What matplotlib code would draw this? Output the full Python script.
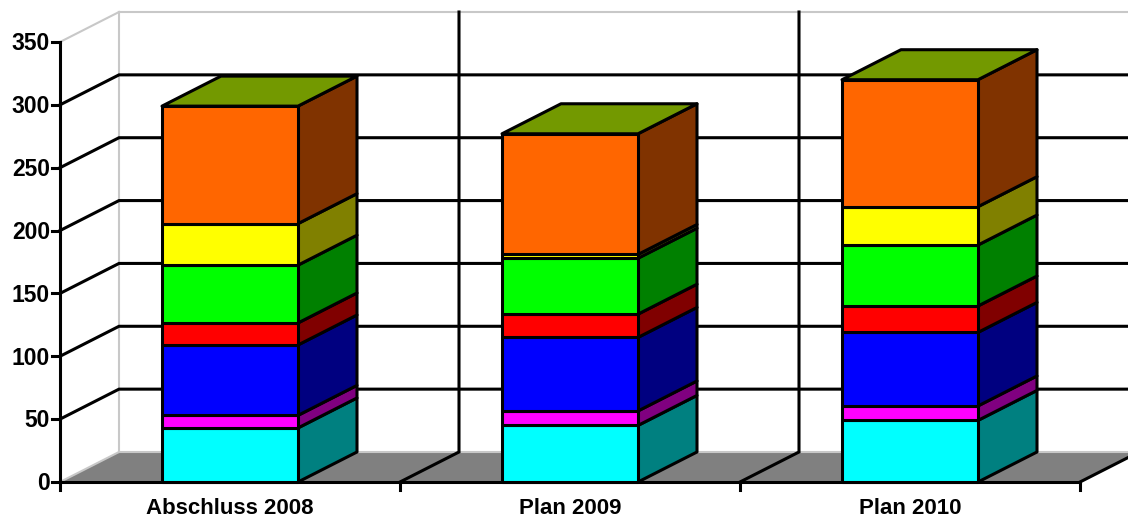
import matplotlib
matplotlib.use("Agg")
import matplotlib.pyplot as plt
from matplotlib.patches import Polygon

plt.rcParams['font.family'] = ['Liberation Sans', 'DejaVu Sans']

categories = ["Abschluss 2008", "Plan 2009", "Plan 2010"]
cyan = [43, 45, 49]
magenta = [10, 11.5, 11.5]
blue = [56, 58.5, 58.5]
red = [17.5, 18.5, 21]
green = [46, 44.5, 48.5]
yellow = [33, 3, 30.5]
orange = [93.5, 96, 101]
series = [cyan, magenta, blue, red, green, yellow, orange]
front_colors = ["#00FFFF", "#FF00FF", "#0000FF", "#FF0000", "#00FF00", "#FFFF00", "#FF6600"]
side_colors = ["#008080", "#800080", "#000080", "#800000", "#008000", "#808000", "#803300"]
top_color = "#739900"
y_ticks = [0, 50, 100, 150, 200, 250, 300, 350]

W, H = 1128, 520
x_px = 340.0           # pixels per category
y_px = 440.0 / 350.0   # pixels per value unit
dx = 59 / x_px         # oblique depth offset, x
dy = 30 / y_px         # oblique depth offset, y
bar_w = 136 / x_px
lw = 2.2

fig = plt.figure(figsize=(W / 100, H / 100), dpi=100, facecolor="white")
ax = fig.add_axes([0, 0, 1, 1])
ax.set_xlim(-60 / x_px, (W - 60) / x_px)
ax.set_ylim(-(H - 482) / y_px, 482 / y_px)
ax.axis("off")

n = len(categories)
ymax = y_ticks[-1]

# floor
ax.add_patch(Polygon([(0, 0), (dx, dy), (n + dx, dy), (n, 0)], fc="#808080", ec="none", zorder=1))
# grey wall edges
grey = "#C8C8C8"
ax.plot([dx, dx], [dy, ymax + dy], color=grey, lw=1.5, zorder=1)
ax.plot([dx, n + dx], [ymax + dy, ymax + dy], color=grey, lw=1.5, zorder=1)
ax.plot([dx, n + dx], [dy, dy], color=grey, lw=1.5, zorder=1)
ax.plot([0, dx], [ymax, ymax + dy], color=grey, lw=1.5, zorder=1)
ax.plot([0, dx], [0, dy], color=grey, lw=1.5, zorder=1)

# gridlines
for t in y_ticks[1:-1]:
    ax.plot([0, dx, n + dx], [t, t + dy, t + dy], color="black", lw=lw, zorder=2, solid_joinstyle="miter")
for i in range(1, n):
    ax.plot([i, i + dx, i + dx], [0, dy, ymax + dy], color="black", lw=lw, zorder=2, solid_joinstyle="miter")
ax.plot([n, n + dx], [0, dy], color="black", lw=lw, zorder=2)

# axes
ax.plot([0, 0], [0, ymax], color="black", lw=lw, zorder=6, clip_on=False)
ax.plot([0, n], [0, 0], color="black", lw=lw, zorder=2)
for t in y_ticks:
    ax.plot([-8 / x_px, 0], [t, t], color="black", lw=lw, zorder=6)
    ax.text(-10 / x_px, t + 0.6, str(t), ha="right", va="center_baseline", fontsize=16.5, fontweight="bold", color="black")
for i in range(n + 1):
    ax.plot([i, i], [0, -8 / y_px], color="black", lw=lw, zorder=6)
for i, c in enumerate(categories):
    ax.text(i + 0.5, -27 / y_px, c, ha="center", va="center", fontsize=16, fontweight="bold", color="black")

# stacked oblique bars
z = 10
for i in range(n):
    x0 = i + 0.5 - bar_w / 2
    x1 = x0 + bar_w
    base = 0
    for values, fc, sc in zip(series, front_colors, side_colors):
        top = base + values[i]
        ax.add_patch(Polygon([(x1, base), (x1 + dx, base + dy), (x1 + dx, top + dy), (x1, top)],
                             fc=sc, ec="black", lw=lw, zorder=z, joinstyle="round"))
        ax.add_patch(Polygon([(x0, base), (x1, base), (x1, top), (x0, top)],
                             fc=fc, ec="black", lw=lw, zorder=z + 1, joinstyle="round"))
        base = top
    ax.add_patch(Polygon([(x0, base), (x1, base), (x1 + dx, base + dy), (x0 + dx, base + dy)],
                         fc=top_color, ec="black", lw=lw, zorder=z + 1, joinstyle="round"))
    z += 2

fig.savefig("out.png", dpi=100, facecolor="white")
